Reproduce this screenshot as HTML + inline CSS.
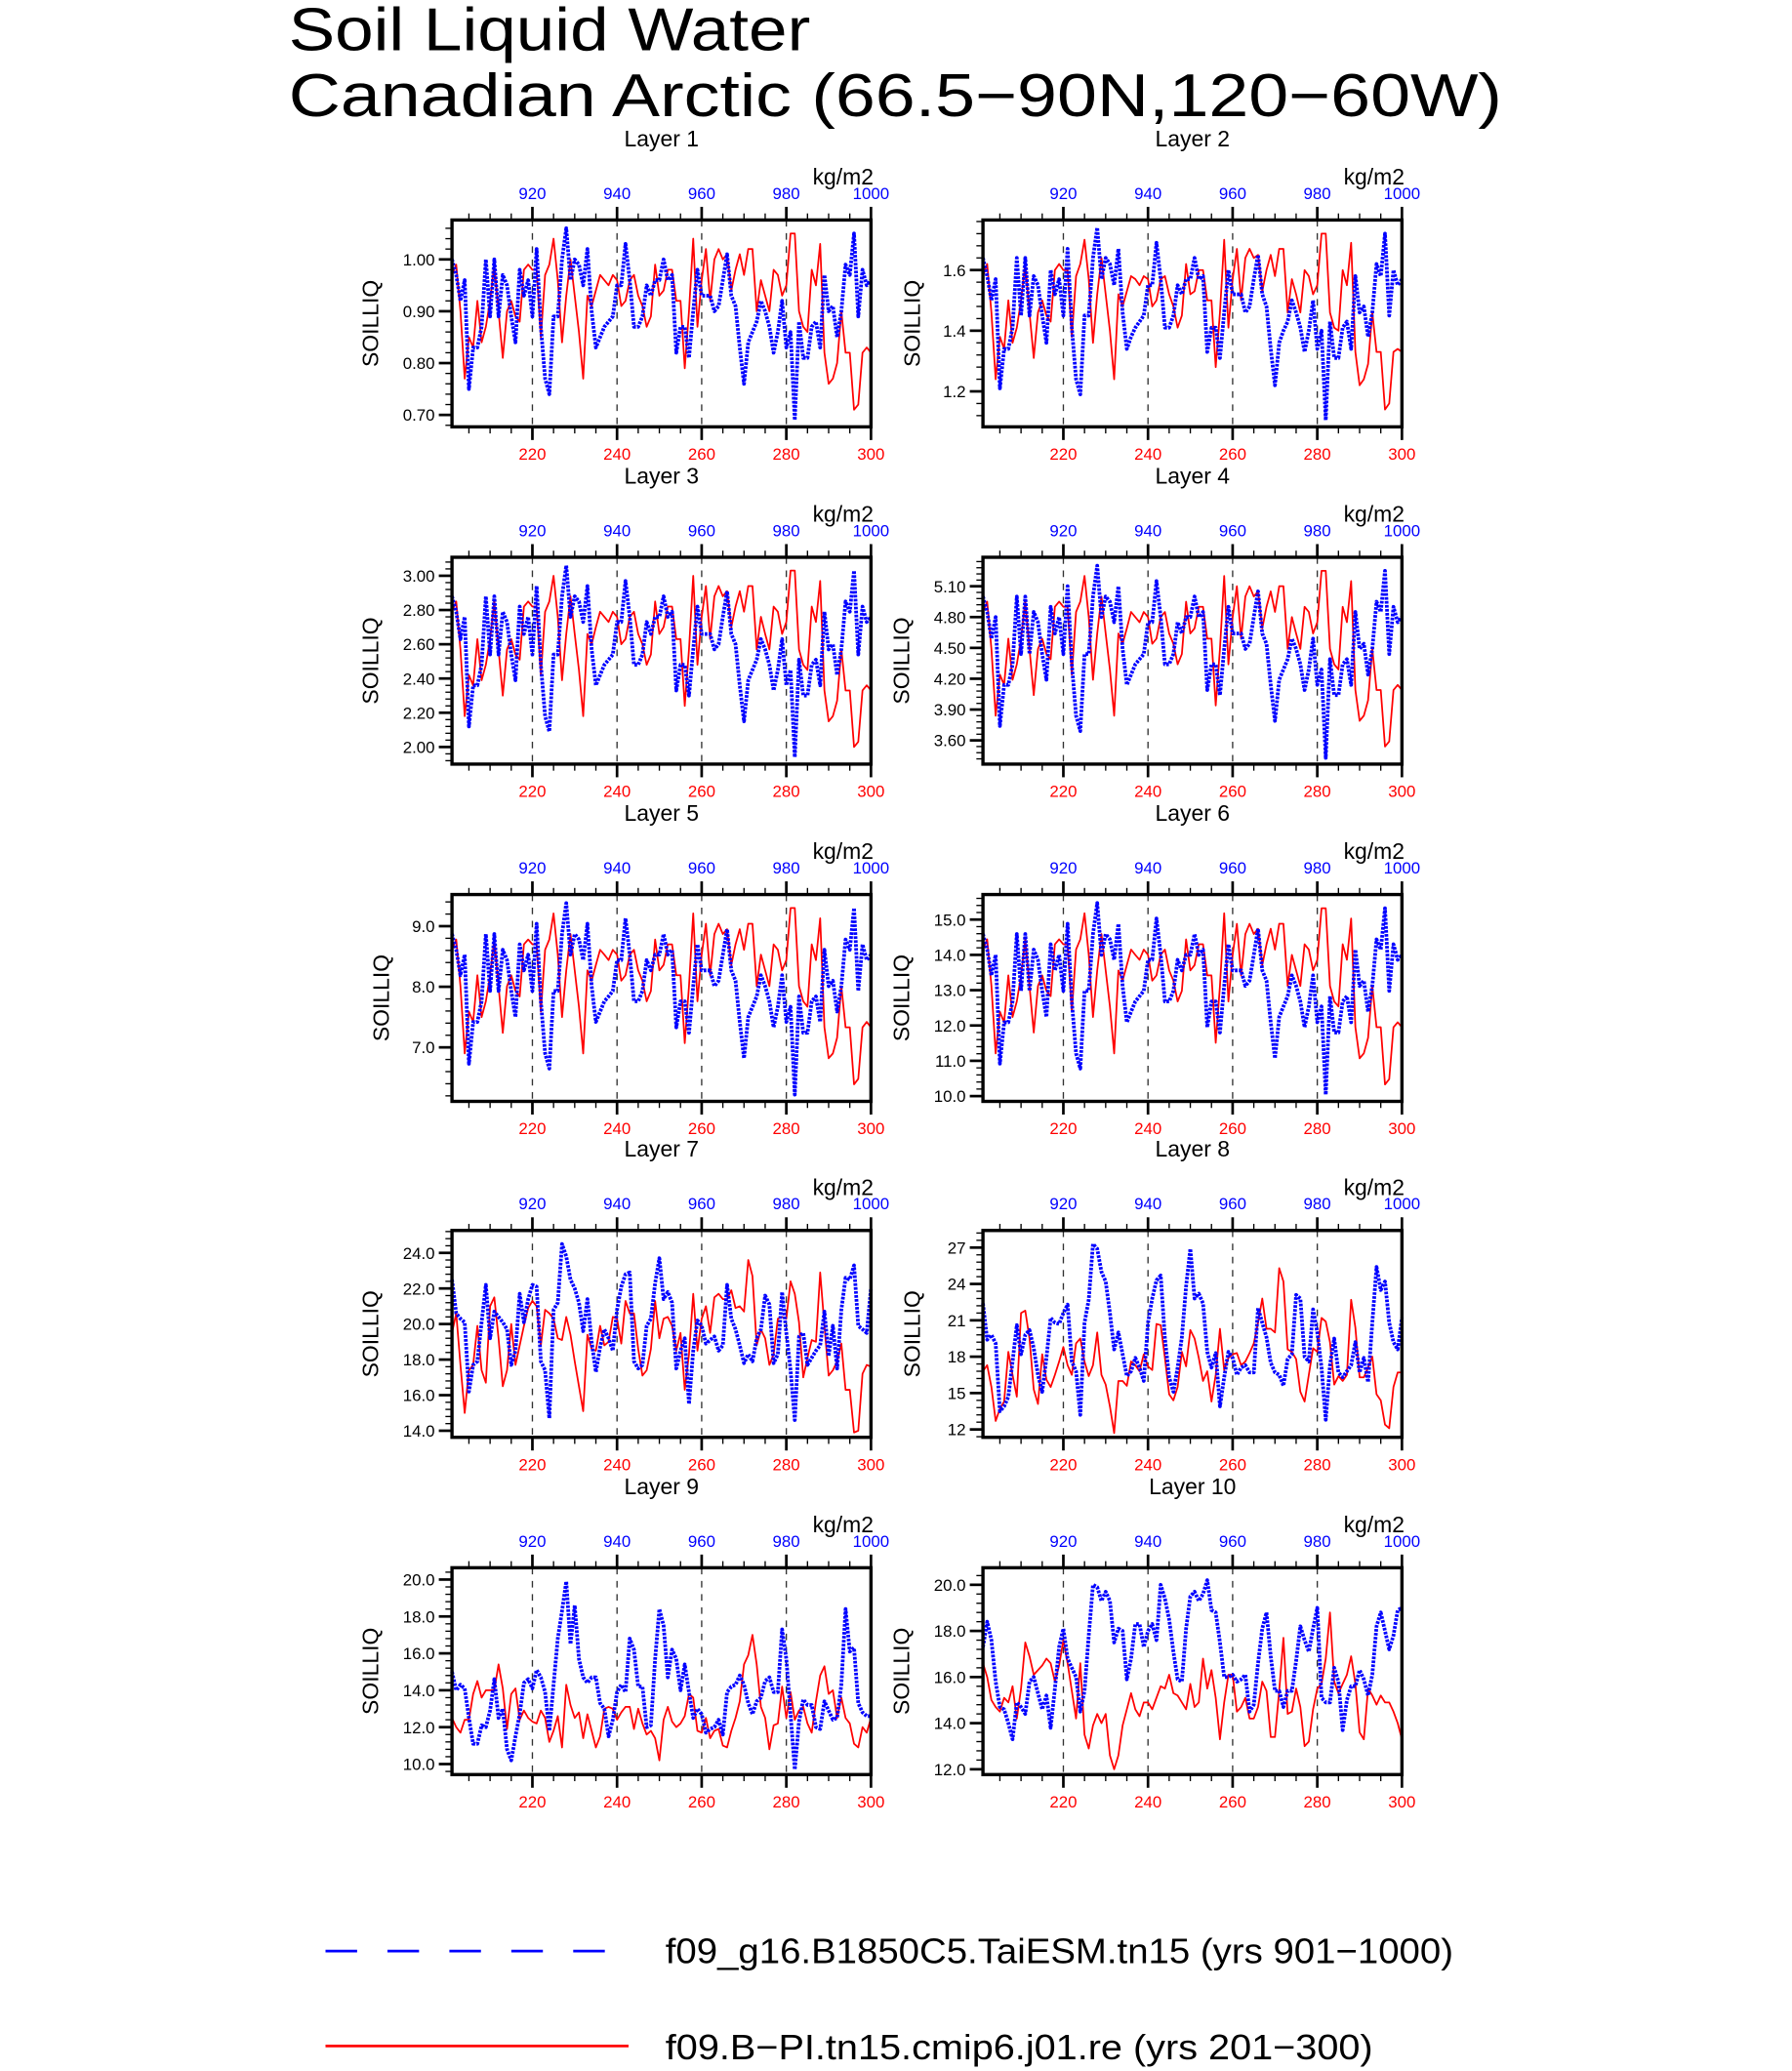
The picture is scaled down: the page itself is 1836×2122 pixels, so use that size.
<!DOCTYPE html>
<html><head><meta charset="utf-8"><title>Soil Liquid Water - Canadian Arctic</title>
<style>
html,body{margin:0;padding:0;background:#fff;}
svg{display:block;}
text{font-family:"Liberation Sans","DejaVu Sans",sans-serif;}
</style></head>
<body>
<svg id="chart" xmlns="http://www.w3.org/2000/svg" width="1836" height="2122" viewBox="0 0 1360 1572">
<rect x="0" y="0" width="1360" height="1572" fill="#fff"/>
<text x="219" y="38" font-size="46" textLength="396" lengthAdjust="spacingAndGlyphs">Soil Liquid Water</text>
<text x="219" y="88" font-size="46" textLength="921" lengthAdjust="spacingAndGlyphs">Canadian Arctic (66.5−90N,120−60W)</text>
<g>
<line x1="247" y1="1481" x2="461" y2="1481" stroke="#0000ff" stroke-width="2" stroke-dasharray="24,23"/>
<text x="505" y="1490" font-size="27" textLength="598" lengthAdjust="spacingAndGlyphs">f09_g16.B1850C5.TaiESM.tn15 (yrs 901−1000)</text>
<line x1="247" y1="1553" x2="477" y2="1553" stroke="#ff0000" stroke-width="2"/>
<text x="505" y="1563" font-size="27" textLength="537" lengthAdjust="spacingAndGlyphs">f09.B−PI.tn15.cmip6.j01.re (yrs 201−300)</text>
</g>
<g id="panels"></g>
</svg>
<script>
const xStart = 201;
const xEnd = 300;
const bottomTicks = [220, 240, 260, 280, 300];
const topTicks = [920, 940, 960, 980, 1000];

const blueL1 = [1.00,0.97,0.92,0.96,0.75,0.83,0.83,0.87,1.00,0.89,1.00,0.89,0.97,0.95,0.89,0.84,0.98,0.93,0.96,0.89,1.02,0.87,0.77,0.74,0.89,0.89,1.00,1.06,0.96,1.00,0.99,0.95,1.02,0.90,0.83,0.85,0.87,0.88,0.89,0.95,0.95,1.03,0.96,0.87,0.87,0.89,0.95,0.93,0.96,0.96,1.00,0.96,0.97,0.82,0.87,0.87,0.81,0.90,0.98,0.93,0.93,0.93,0.90,0.91,0.96,1.01,0.93,0.91,0.83,0.76,0.84,0.86,0.88,0.92,0.90,0.87,0.82,0.86,0.92,0.83,0.86,0.69,0.88,0.81,0.81,0.87,0.88,0.83,0.97,0.90,0.91,0.85,0.90,0.99,0.97,1.05,0.89,0.98,0.95,0.96];
const redL1 = [0.97,0.99,0.90,0.77,0.85,0.83,0.92,0.84,0.87,0.92,0.99,0.90,0.81,0.90,0.92,0.89,0.88,0.98,0.99,0.98,0.98,0.85,0.97,0.99,1.04,0.96,0.84,0.93,1.00,0.93,0.86,0.77,0.93,0.91,0.94,0.97,0.96,0.95,0.97,0.96,0.91,0.92,0.96,0.97,0.93,0.91,0.87,0.89,0.99,0.93,0.94,0.98,0.98,0.92,0.92,0.79,0.90,1.04,0.87,0.96,1.02,0.92,1.00,1.02,1.00,1.01,0.94,0.98,1.01,0.97,1.02,1.02,0.90,0.96,0.93,0.90,0.98,0.97,0.93,0.95,1.05,1.05,0.90,0.87,0.86,0.98,0.95,1.03,0.82,0.76,0.77,0.80,0.90,0.82,0.82,0.71,0.72,0.82,0.83,0.82];
const blueL2 = [1.64,1.58,1.50,1.57,1.21,1.34,1.34,1.41,1.64,1.45,1.64,1.45,1.58,1.55,1.45,1.36,1.60,1.52,1.57,1.45,1.67,1.41,1.24,1.19,1.45,1.45,1.64,1.74,1.57,1.64,1.62,1.55,1.67,1.46,1.34,1.38,1.41,1.43,1.45,1.55,1.55,1.69,1.57,1.41,1.41,1.45,1.55,1.52,1.57,1.57,1.64,1.57,1.58,1.33,1.41,1.41,1.31,1.46,1.60,1.52,1.52,1.52,1.46,1.48,1.57,1.65,1.52,1.48,1.34,1.22,1.36,1.40,1.43,1.50,1.46,1.41,1.33,1.40,1.50,1.34,1.40,1.105,1.43,1.31,1.31,1.41,1.43,1.34,1.58,1.46,1.48,1.38,1.46,1.62,1.58,1.72,1.45,1.60,1.55,1.57];
const redL2 = [1.58,1.62,1.46,1.24,1.38,1.34,1.50,1.36,1.41,1.50,1.62,1.46,1.31,1.46,1.50,1.45,1.43,1.60,1.62,1.60,1.60,1.38,1.58,1.62,1.70,1.57,1.36,1.52,1.64,1.52,1.40,1.24,1.52,1.48,1.53,1.58,1.57,1.55,1.58,1.57,1.48,1.50,1.57,1.58,1.52,1.48,1.41,1.45,1.62,1.52,1.53,1.60,1.60,1.50,1.50,1.28,1.46,1.70,1.41,1.57,1.67,1.50,1.64,1.67,1.64,1.65,1.53,1.60,1.65,1.58,1.67,1.67,1.46,1.57,1.52,1.46,1.60,1.58,1.52,1.55,1.72,1.72,1.46,1.41,1.40,1.60,1.55,1.69,1.33,1.22,1.24,1.29,1.46,1.33,1.33,1.14,1.16,1.33,1.34,1.33];
const blueL3 = [2.88,2.79,2.63,2.76,2.12,2.36,2.36,2.48,2.88,2.54,2.88,2.54,2.79,2.73,2.54,2.39,2.82,2.66,2.76,2.54,2.94,2.48,2.18,2.09,2.54,2.54,2.88,3.06,2.76,2.88,2.85,2.73,2.94,2.57,2.36,2.42,2.48,2.51,2.54,2.73,2.73,2.97,2.76,2.48,2.48,2.54,2.73,2.66,2.76,2.76,2.88,2.76,2.79,2.33,2.48,2.48,2.30,2.57,2.82,2.66,2.66,2.66,2.57,2.60,2.76,2.91,2.66,2.60,2.36,2.15,2.39,2.45,2.51,2.63,2.57,2.48,2.33,2.45,2.63,2.36,2.45,1.94,2.51,2.30,2.30,2.48,2.51,2.36,2.79,2.57,2.60,2.42,2.57,2.85,2.79,3.03,2.54,2.82,2.73,2.76];
const redL3 = [2.79,2.85,2.57,2.18,2.42,2.36,2.63,2.39,2.48,2.63,2.85,2.57,2.30,2.57,2.63,2.54,2.51,2.82,2.85,2.82,2.82,2.42,2.79,2.85,3.00,2.76,2.39,2.66,2.88,2.66,2.45,2.18,2.66,2.60,2.70,2.79,2.76,2.73,2.79,2.76,2.60,2.63,2.76,2.79,2.66,2.60,2.48,2.54,2.85,2.66,2.70,2.82,2.82,2.63,2.63,2.24,2.57,3.00,2.48,2.76,2.94,2.63,2.88,2.94,2.88,2.91,2.70,2.82,2.91,2.79,2.94,2.94,2.57,2.76,2.66,2.57,2.82,2.79,2.66,2.73,3.03,3.03,2.57,2.48,2.45,2.82,2.73,2.97,2.33,2.15,2.18,2.27,2.57,2.33,2.33,2.00,2.03,2.33,2.36,2.33];
const blueL4 = [5.00,4.85,4.59,4.80,3.74,4.14,4.14,4.34,5.00,4.44,5.00,4.44,4.85,4.75,4.44,4.19,4.90,4.64,4.80,4.44,5.10,4.34,3.84,3.69,4.44,4.44,5.00,5.30,4.80,5.00,4.95,4.75,5.10,4.49,4.14,4.24,4.34,4.39,4.44,4.75,4.75,5.15,4.80,4.34,4.34,4.44,4.75,4.64,4.80,4.80,5.00,4.80,4.85,4.09,4.34,4.34,4.04,4.49,4.90,4.64,4.64,4.64,4.49,4.54,4.80,5.05,4.64,4.54,4.14,3.79,4.19,4.29,4.39,4.59,4.49,4.34,4.09,4.29,4.59,4.14,4.29,3.43,4.39,4.04,4.04,4.34,4.39,4.14,4.85,4.49,4.54,4.24,4.49,4.95,4.85,5.25,4.44,4.90,4.75,4.80];
const redL4 = [4.85,4.95,4.49,3.84,4.24,4.14,4.59,4.19,4.34,4.59,4.95,4.49,4.04,4.49,4.59,4.44,4.39,4.90,4.95,4.90,4.90,4.24,4.85,4.95,5.20,4.80,4.19,4.64,5.00,4.64,4.29,3.84,4.64,4.54,4.69,4.85,4.80,4.75,4.85,4.80,4.54,4.59,4.80,4.85,4.64,4.54,4.34,4.44,4.95,4.64,4.69,4.90,4.90,4.59,4.59,3.94,4.49,5.20,4.34,4.80,5.10,4.59,5.00,5.10,5.00,5.05,4.69,4.90,5.05,4.85,5.10,5.10,4.49,4.80,4.64,4.49,4.90,4.85,4.64,4.75,5.25,5.25,4.49,4.34,4.29,4.90,4.75,5.15,4.09,3.79,3.84,3.99,4.49,4.09,4.09,3.54,3.59,4.09,4.14,4.09];
const blueL5 = [8.87,8.61,8.19,8.53,6.73,7.42,7.42,7.76,8.87,7.93,8.87,7.93,8.61,8.44,7.93,7.50,8.70,8.27,8.53,7.93,9.04,7.76,6.90,6.65,7.93,7.93,8.87,9.38,8.53,8.87,8.78,8.44,9.04,8.01,7.42,7.59,7.76,7.84,7.93,8.44,8.44,9.13,8.53,7.76,7.76,7.93,8.44,8.27,8.53,8.53,8.87,8.53,8.61,7.33,7.76,7.76,7.24,8.01,8.70,8.27,8.27,8.27,8.01,8.10,8.53,8.95,8.27,8.10,7.42,6.82,7.50,7.67,7.84,8.19,8.01,7.76,7.33,7.67,8.19,7.42,7.67,6.22,7.84,7.24,7.24,7.76,7.84,7.42,8.61,8.01,8.10,7.59,8.01,8.78,8.61,9.30,7.93,8.70,8.44,8.53];
const redL5 = [8.61,8.78,8.01,6.90,7.59,7.42,8.19,7.50,7.76,8.19,8.78,8.01,7.24,8.01,8.19,7.93,7.84,8.70,8.78,8.70,8.70,7.59,8.61,8.78,9.21,8.53,7.50,8.27,8.87,8.27,7.67,6.90,8.27,8.10,8.36,8.61,8.53,8.44,8.61,8.53,8.10,8.19,8.53,8.61,8.27,8.10,7.76,7.93,8.78,8.27,8.36,8.70,8.70,8.19,8.19,7.07,8.01,9.21,7.76,8.53,9.04,8.19,8.87,9.04,8.87,8.95,8.36,8.70,8.95,8.61,9.04,9.04,8.01,8.53,8.27,8.01,8.70,8.61,8.27,8.44,9.30,9.30,8.01,7.76,7.67,8.70,8.44,9.13,7.33,6.82,6.90,7.16,8.01,7.33,7.33,6.39,6.48,7.33,7.42,7.33];
const blueL6 = [14.59,14.15,13.42,14.00,10.92,12.09,12.09,12.68,14.59,12.98,14.59,12.98,14.15,13.86,12.98,12.24,14.30,13.56,14.00,12.98,14.88,12.68,11.21,10.78,12.98,12.98,14.59,15.47,14.00,14.59,14.44,13.86,14.88,13.12,12.09,12.39,12.68,12.83,12.98,13.86,13.86,15.03,14.00,12.68,12.68,12.98,13.86,13.56,14.00,14.00,14.59,14.00,14.15,11.95,12.68,12.68,11.80,13.12,14.30,13.56,13.56,13.56,13.12,13.27,14.00,14.74,13.56,13.27,12.09,11.07,12.24,12.54,12.83,13.42,13.12,12.68,11.95,12.54,13.42,12.09,12.54,10.04,12.83,11.80,11.80,12.68,12.83,12.09,14.15,13.12,13.27,12.39,13.12,14.44,14.15,15.32,12.98,14.30,13.86,14.00];
const redL6 = [14.15,14.44,13.12,11.21,12.39,12.09,13.42,12.24,12.68,13.42,14.44,13.12,11.80,13.12,13.42,12.98,12.83,14.30,14.44,14.30,14.30,12.39,14.15,14.44,15.18,14.00,12.24,13.56,14.59,13.56,12.54,11.21,13.56,13.27,13.71,14.15,14.00,13.86,14.15,14.00,13.27,13.42,14.00,14.15,13.56,13.27,12.68,12.98,14.44,13.56,13.71,14.30,14.30,13.42,13.42,11.51,13.12,15.18,12.68,14.00,14.88,13.42,14.59,14.88,14.59,14.74,13.71,14.30,14.74,14.15,14.88,14.88,13.12,14.00,13.56,13.12,14.30,14.15,13.56,13.86,15.32,15.32,13.12,12.68,12.54,14.30,13.86,15.03,11.95,11.07,11.21,11.65,13.12,11.95,11.95,10.33,10.48,11.95,12.09,11.95];
const blueL7 = [22.5,20.6,20.3,20.1,16.2,17.7,17.9,20.1,22.2,19.2,20.7,20.4,20.1,19.7,17.7,18.5,21.7,20.1,21.4,22.2,22.1,17.9,17.4,14.7,20.8,21.2,24.5,23.8,22.5,22.0,21.2,19.6,21.4,19.0,17.3,18.7,19.7,19.2,18.5,20.8,22.1,22.8,22.9,17.9,17.5,17.7,19.9,20.3,22.3,23.7,21.4,21.8,21.2,17.5,18.5,19.2,15.5,18.5,20.2,19.9,18.9,19.1,19.3,18.5,18.8,22.2,20.3,19.7,18.8,17.8,18.3,17.9,19.2,19.7,21.6,21.1,17.8,18.3,21.8,19.5,17.4,14.6,19.3,19.5,17.7,18.1,18.5,18.8,20.7,18.2,19.9,17.5,20.8,22.6,22.5,23.3,19.9,19.7,19.5,22.0];
const redL7 = [19.5,20.6,17.7,15.0,17.4,17.7,19.9,17.4,16.7,21.0,21.5,19.2,16.5,17.4,20.0,17.7,18.8,19.9,20.9,21.3,21.0,18.8,20.8,20.6,20.3,19.2,19.1,20.4,19.4,17.9,16.5,15.1,19.4,18.6,18.5,19.9,18.8,19.0,20.4,20.3,18.9,21.3,20.6,20.6,18.6,17.1,17.4,18.6,21.3,19.2,20.3,20.4,19.9,18.5,19.5,16.3,18.3,21.7,18.5,20.3,21.0,19.5,21.5,21.7,21.4,21.4,21.9,20.9,21.0,20.7,23.6,22.7,18.8,19.7,19.2,17.7,18.3,20.3,20.4,20.3,22.4,21.7,20.1,17.0,18.1,19.1,19.0,22.9,19.9,17.1,17.4,17.9,18.9,16.3,16.3,13.9,14.0,17.2,17.7,17.6];
const blueL8 = [22.4,19.4,19.8,19.1,13.5,13.9,14.7,17.6,20.6,18.2,19.8,20.2,18.7,16.5,15.1,17.9,21.2,20.8,20.7,21.6,22.3,17.6,16.8,13.2,20.8,22.7,27.3,26.9,25.0,24.2,21.6,18.6,20.0,18.2,16.4,16.8,17.9,17.1,16.0,20.8,22.8,24.3,24.7,19.5,16.3,15.1,17.1,19.6,23.8,26.9,22.8,23.2,22.4,18.4,17.1,18.3,13.9,16.3,18.4,17.9,16.5,17.1,17.3,16.7,16.7,22.0,20.8,19.6,17.5,16.7,16.5,15.6,17.8,18.2,23.1,22.8,18.0,17.6,21.9,20.0,17.1,12.8,17.3,19.5,16.7,16.3,16.8,17.3,19.2,16.7,17.9,15.9,20.8,25.4,23.5,24.2,20.8,19.2,18.6,21.2];
const redL8 = [16.8,17.3,15.5,12.7,13.7,14.3,18.4,16.5,14.7,21.6,21.8,19.5,15.3,14.1,18.2,16.1,15.5,16.5,17.6,18.8,17.3,16.5,19.1,19.5,17.6,16.4,17.3,20.0,16.5,15.7,13.9,11.7,16.0,16.0,15.6,17.6,17.3,16.8,18.2,17.2,16.9,20.7,20.6,17.9,14.9,14.4,15.5,18.4,17.2,20.2,19.5,17.9,16.0,16.8,14.3,16.5,20.3,16.9,17.9,18.2,18.3,17.3,17.6,18.3,19.1,20.8,22.8,20.3,20.3,20.0,25.3,24.2,18.6,18.4,17.8,15.1,14.3,16.5,18.7,18.4,21.2,20.9,19.2,15.7,16.4,16.0,16.5,22.7,20.4,16.3,16.3,17.1,18.0,14.9,14.4,12.4,12.1,15.5,16.7,16.7];
const blueL9 = [15.0,14.0,14.3,14.1,12.5,11.1,11.1,12.1,12.0,12.9,14.6,12.5,13.0,10.8,10.2,11.5,12.7,14.4,14.6,14.1,15.1,14.7,13.9,11.8,14.3,16.8,18.3,19.9,16.5,18.6,15.7,14.7,14.4,14.7,14.7,13.3,13.0,11.5,12.4,13.9,14.3,13.9,16.8,16.2,14.2,14.2,12.0,12.1,15.7,18.4,17.5,14.7,16.2,15.7,14.0,15.4,13.9,12.5,13.0,12.7,11.7,11.9,12.0,12.4,11.6,13.9,14.2,14.3,14.8,14.3,13.3,12.7,13.4,13.6,14.5,14.7,13.9,13.9,17.3,15.7,12.7,9.7,12.3,13.5,13.2,13.2,12.0,11.9,13.4,12.9,12.4,12.5,14.3,18.4,16.1,16.3,13.3,12.8,12.6,12.6];
const redL9 = [12.5,12.0,11.7,12.4,12.4,13.8,14.5,13.6,14.0,14.0,14.0,15.4,14.1,11.9,13.8,14.1,12.4,12.9,12.5,12.3,12.2,12.9,12.5,11.2,11.8,12.6,10.9,14.3,13.2,12.5,12.8,11.4,12.7,11.8,10.9,11.5,13.0,13.1,13.0,12.4,12.8,13.1,13.1,11.9,13.0,12.2,11.6,11.8,11.4,10.2,12.4,13.1,12.3,12.0,12.2,12.6,13.8,13.6,11.8,11.7,12.5,11.4,11.8,11.9,11.0,10.9,11.8,12.5,13.4,15.4,15.9,17.0,15.4,13.1,12.5,10.8,12.1,12.2,14.2,12.5,13.9,12.4,12.9,13.1,12.2,11.7,13.4,14.8,15.3,13.8,14.0,12.5,13.6,12.5,12.2,11.1,10.9,12.0,11.7,12.5];
const blueL10 = [17.3,18.4,17.6,15.8,14.7,14.6,14.0,13.3,14.9,14.7,14.4,15.8,16.0,15.3,14.6,15.2,13.8,15.5,17.3,18.1,16.8,16.4,16.0,14.5,15.4,17.8,20.0,19.9,19.3,19.7,19.3,17.5,18.1,18.0,15.9,16.8,18.3,18.3,17.3,18.0,18.3,17.6,20.0,19.4,18.5,17.1,15.9,15.8,18.1,19.5,19.7,19.3,19.6,20.2,18.9,18.8,17.5,16.0,16.0,16.1,15.8,15.9,16.1,14.5,14.8,16.6,18.1,18.8,16.9,15.4,15.4,14.7,15.4,15.4,16.7,18.2,17.6,17.1,18.1,19.0,15.1,14.9,14.9,16.4,15.8,13.7,15.0,15.6,15.6,16.3,15.9,15.2,16.1,18.2,18.8,18.0,17.2,17.8,18.9,19.0];
const redL10 = [16.6,16.0,15.0,14.7,14.5,15.1,14.9,15.6,14.2,15.5,17.5,16.9,16.1,16.3,16.5,16.8,16.6,15.8,16.5,17.6,16.6,15.4,14.2,16.6,13.5,12.9,13.9,14.4,14.0,14.4,12.6,12.0,12.6,13.9,14.6,15.3,14.6,14.3,14.9,14.9,14.6,15.1,15.6,15.5,16.1,15.3,15.2,14.9,14.6,15.7,14.7,14.9,16.8,15.5,16.3,15.1,13.3,14.9,16.1,16.1,14.5,14.7,15.1,14.2,14.2,14.7,15.8,15.4,13.4,13.4,15.4,17.7,14.4,14.5,15.5,14.7,13.0,13.2,14.6,15.5,15.7,16.8,18.8,15.8,15.3,15.7,16.1,16.9,15.7,13.6,13.3,15.5,15.2,14.8,15.2,14.9,14.9,14.5,14.0,13.3];

const yTicksL1 = ["0.70","0.80","0.90","1.00"];
const yTicksL2 = ["1.2","1.4","1.6"];
const yTicksL3 = ["2.00","2.20","2.40","2.60","2.80","3.00"];
const yTicksL4 = ["3.60","3.90","4.20","4.50","4.80","5.10"];
const yTicksL5 = ["7.0","8.0","9.0"];
const yTicksL6 = ["10.0","11.0","12.0","13.0","14.0","15.0"];
const yTicksL7 = ["14.0","16.0","18.0","20.0","22.0","24.0"];
const yTicksL8 = ["12","15","18","21","24","27"];
const yTicksL9 = ["10.0","12.0","14.0","16.0","18.0","20.0"];
const yTicksL10 = ["12.0","14.0","16.0","18.0","20.0"];

// layout: [left, top, yDomainBottom, yDomainTop]
const panelLayout = [
  {title:"Layer 1", x:343, y:167, lo:0.677, hi:1.076, blue:blueL1, red:redL1, ticks:yTicksL1, lab:56},
  {title:"Layer 2", x:746, y:167, lo:1.083, hi:1.765, blue:blueL2, red:redL2, ticks:yTicksL2, lab:48},
  {title:"Layer 3", x:343, y:423, lo:1.900, hi:3.108, blue:blueL3, red:redL3, ticks:yTicksL3, lab:56},
  {title:"Layer 4", x:746, y:423, lo:3.369, hi:5.382, blue:blueL4, red:redL4, ticks:yTicksL4, lab:56},
  {title:"Layer 5", x:343, y:679, lo:6.109, hi:9.522, blue:blueL5, red:redL5, ticks:yTicksL5, lab:48},
  {title:"Layer 6", x:746, y:679, lo:9.851, hi:15.709, blue:blueL6, red:redL6, ticks:yTicksL6, lab:56},
  {title:"Layer 7", x:343, y:934, lo:13.63, hi:25.26, blue:blueL7, red:redL7, ticks:yTicksL7, lab:56},
  {title:"Layer 8", x:746, y:934, lo:11.35, hi:28.41, blue:blueL8, red:redL8, ticks:yTicksL8, lab:48},
  {title:"Layer 9", x:343, y:1190, lo:9.43, hi:20.64, blue:blueL9, red:redL9, ticks:yTicksL9, lab:56},
  {title:"Layer 10", x:746, y:1190, lo:11.77, hi:20.74, blue:blueL10, red:redL10, ticks:yTicksL10, lab:56}
];
const PW = 318, PH = 157;
const NS = "http://www.w3.org/2000/svg";
const root = document.getElementById("panels");

function mk(tag, attrs, parent) {
  const e = document.createElementNS(NS, tag);
  for (const k in attrs) e.setAttribute(k, attrs[k]);
  parent.appendChild(e);
  return e;
}

panelLayout.forEach(function(p, pi) {
  const g = mk("g", {}, root);
  
  
  const xs = function(yr) { return p.x + (yr - xStart) / (xEnd - xStart) * PW; };
  const ys = function(v) { return p.y + PH - (v - p.lo) / (p.hi - p.lo) * PH; };
  const bottom = p.y + PH;

  // title
  const t = mk("text", {x: p.x + PW / 2, y: p.y - 56, "font-size": 17, "text-anchor": "middle"}, g);
  t.textContent = p.title;
  
  
  const u = mk("text", {x: p.x + PW + 2, y: p.y - 27, "font-size": 17, "text-anchor": "end"}, g);
  u.textContent = "kg/m2";
  
  

  // dashed grid
  bottomTicks.forEach(function(yr) {
    if (yr >= xEnd) return;
    const l = mk("line", {x1: xs(yr), x2: xs(yr), y1: p.y, y2: bottom, stroke: "#333", "stroke-width": 1, "stroke-dasharray": "5,5"}, g);
    
    
  });

  // x minor/major ticks
  for (let yr = 205; yr <= xEnd; yr += 5) {
    const major = (yr % 20 === 0);
    const len = major ? 10 : 5;
    const tb = mk("line", {x1: xs(yr), x2: xs(yr), y1: bottom, y2: bottom + len, stroke: "#000", "stroke-width": major ? 2 : 1}, g);
    
    
    const tt = mk("line", {x1: xs(yr), x2: xs(yr), y1: p.y, y2: p.y - len, stroke: "#000", "stroke-width": major ? 2 : 1}, g);
    
    
  }
  bottomTicks.forEach(function(yr) {
    const lb = mk("text", {x: xs(yr), y: bottom + 25, "font-size": 12.5, fill: "#ff0000", "text-anchor": "middle"}, g);
    lb.textContent = String(yr);
    
    
  });
  topTicks.forEach(function(yr) {
    const lt = mk("text", {x: xs(yr - 700), y: p.y - 16, "font-size": 12.5, fill: "#0000ff", "text-anchor": "middle"}, g);
    lt.textContent = String(yr);
    
    
  });

  // y ticks
  const tv = p.ticks.map(Number);
  const step = tv[1] - tv[0];
  const minor = step / 5;
  for (let v = tv[0] - 10 * minor; v <= p.hi + 1e-9; v += minor) {
    if (v < p.lo) continue;
    const k = Math.round((v - tv[0]) / minor);
    const major = (k % 5 === 0);
    const ym = mk("line", {x1: p.x, x2: p.x - (major ? 10 : 5), y1: ys(v), y2: ys(v), stroke: "#000", "stroke-width": major ? 2 : 1}, g);
    
    
  }
  p.ticks.forEach(function(s) {
    const yl = mk("text", {x: p.x - 13, y: ys(Number(s)) + 4.5, "font-size": 12.5, "text-anchor": "end"}, g);
    yl.textContent = s;
    
    
  });
  const cy = p.y + PH / 2;
  const ya = mk("text", {x: p.x - p.lab, y: cy, "font-size": 17, "text-anchor": "middle", transform: "rotate(-90 " + (p.x - p.lab) + " " + cy + ")"}, g);
  ya.textContent = "SOILLIQ";
  
  

  // series
  const ptsR = p.red.map(function(v, i) { return xs(xStart + i).toFixed(2) + "," + ys(v).toFixed(2); }).join(" ");
  const red = mk("polyline", {points: ptsR, fill: "none", stroke: "#ff0000", "stroke-width": 1.3, "stroke-linejoin": "round"}, g);
  
  
  const ptsB = p.blue.map(function(v, i) { return xs(xStart + i).toFixed(2) + "," + ys(v).toFixed(2); }).join(" ");
  const blue = mk("polyline", {points: ptsB, fill: "none", stroke: "#0000ff", "stroke-width": 2.8, "stroke-dasharray": "2,1", "stroke-linejoin": "round"}, g);
  
  

  // frame
  const fr = mk("rect", {x: p.x, y: p.y, width: PW, height: PH, fill: "none", stroke: "#000", "stroke-width": 2.5}, g);
  
  
});
</script>
</body></html>
